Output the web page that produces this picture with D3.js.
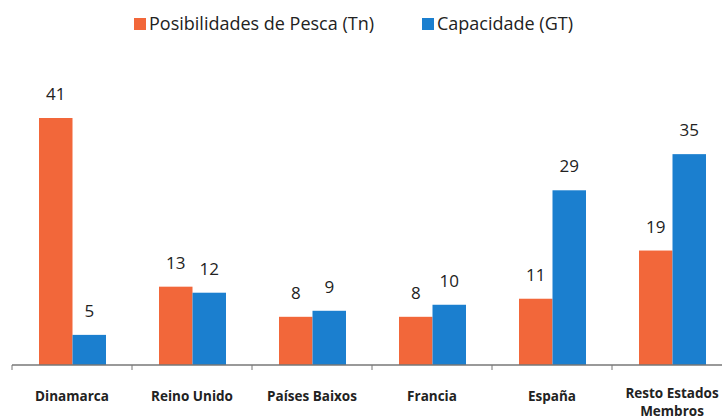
<meta charset="utf-8">
<script src="https://d3js.org/d3.v7.min.js"></script>
<body style="margin: 0; background: white;">
<svg id="vis"></svg>
</body>
<script>

  // Data
  var categories = ['Dinamarca', 'Reino Unido', 'Países Baixos', 'Francia', 'España', 'Resto Estados Membros']
  var pesca = [41, 13, 8, 8, 11, 19]
  var capacidad = [5, 12, 9, 10, 29, 35]
  var seriesNames = ['Posibilidades de Pesca (Tn)', 'Capacidade (GT)']
  var seriesColors = ['#f2673a', '#1b7fcf']

  var width = 722
  var height = 420
  var baseY = 365

  var svg = d3.select('#vis')
    .attr('width', width)
    .attr('height', height)
    .style('display', 'block')

  // Scales
  var x = d3.scaleBand()
    .domain(categories)
    .range([12, 12 + 120 * categories.length])

  var x1 = d3.scaleBand()
    .domain([0, 1])
    .range([27, 94])
    .padding(0)

  var y = d3.scaleLinear()
    .domain([0, 41])
    .range([baseY, 118])

  var rows = categories.map(function(c, i) {
    return { cat: c, vals: [pesca[i], capacidad[i]] }
  })

  // Bars
  var groups = svg.selectAll('g.grp')
    .data(rows)
    .enter()
    .append('g')
    .attr('class', 'grp')
    .attr('transform', function(d) { return 'translate(' + x(d.cat) + ',0)' })

  groups.selectAll('rect')
    .data(function(d) { return d.vals })
    .enter()
    .append('rect')
    .attr('x', function(d, i) { return x1(i) })
    .attr('y', function(d) { return y(d) })
    .attr('width', x1.bandwidth())
    .attr('height', function(d) { return baseY - y(d) })
    .attr('fill', function(d, i) { return seriesColors[i] })

  // Value labels
  groups.selectAll('text.val')
    .data(function(d) { return d.vals })
    .enter()
    .append('text')
    .attr('class', 'val')
    .attr('x', function(d, i) { return x1(i) + x1.bandwidth() / 2 })
    .attr('y', function(d) { return y(d) - 18 })
    .attr('text-anchor', 'middle')
    .style('font-family', 'Open Sans')
    .style('font-size', '17px')
    .style('fill', '#222')
    .text(function(d) { return d })

  // Axis
  var axis = d3.axisBottom(x).tickSize(5).tickFormat('')
  var axisG = svg.append('g')
    .attr('transform', 'translate(0,' + baseY + ')')
    .call(axis)
  axisG.select('.domain').attr('stroke', '#777').attr('stroke-width', 1.5).attr('d', 'M12,0H' + width)
  axisG.selectAll('.tick line')
    .attr('stroke', '#777')
    .attr('transform', 'translate(-60,0)')

  // Category labels
  svg.selectAll('text.cat')
    .data(categories)
    .enter()
    .append('text')
    .attr('class', 'cat')
    .attr('text-anchor', 'middle')
    .attr('x', function(d) { return x(d) + x.bandwidth() / 2 })
    .attr('y', function(d) { return d === 'Resto Estados Membros' ? 398 : 401 })
    .style('font-family', 'Open Sans')
    .style('font-weight', 'bold')
    .style('font-size', '13.5px')
    .style('fill', '#222')
    .each(function(d) {
      var t = d3.select(this)
      var parts = d === 'Resto Estados Membros' ? ['Resto Estados', 'Membros'] : [d]
      parts.forEach(function(p, i) {
        t.append('tspan')
          .attr('x', t.attr('x'))
          .attr('dy', i === 0 ? 0 : 18)
          .text(p)
      })
    })

  // Legend
  var legendX = [134, 422]
  var legend = svg.selectAll('g.leg')
    .data(seriesNames)
    .enter()
    .append('g')
    .attr('class', 'leg')
    .attr('transform', function(d, i) { return 'translate(' + legendX[i] + ',18)' })

  legend.append('rect')
    .attr('width', 12)
    .attr('height', 12)
    .attr('fill', function(d, i) { return seriesColors[i] })

  legend.append('text')
    .attr('x', 15)
    .attr('y', 12)
    .style('font-family', 'Open Sans')
    .style('font-size', '18px')
    .style('fill', '#222')
    .text(function(d) { return d })

</script>
